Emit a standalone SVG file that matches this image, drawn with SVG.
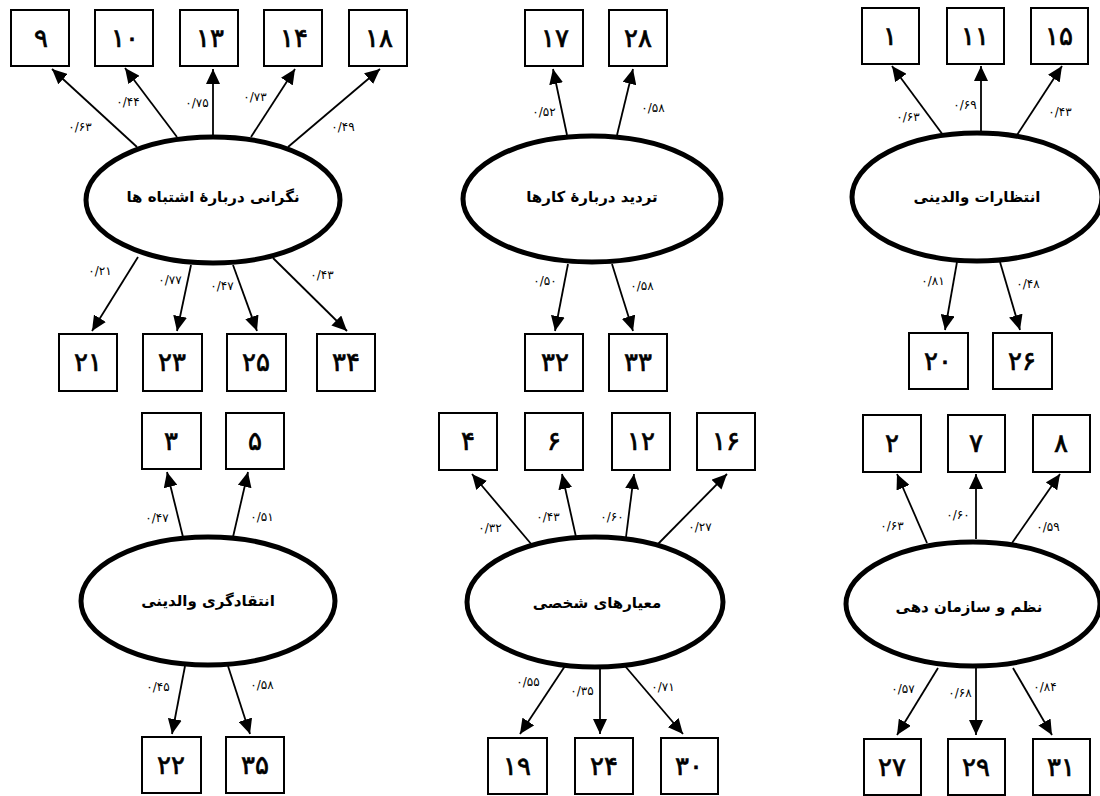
<svg xmlns="http://www.w3.org/2000/svg" width="1100" height="796" viewBox="0 0 1100 796">
<style>
.bx rect{fill:#fff;stroke:#000;stroke-width:2}
.bx text{font-family:"DejaVu Sans","Noto Sans",sans-serif;font-size:26px;text-anchor:middle;dominant-baseline:central;fill:#000;stroke:#000;stroke-width:0.7}
.lv ellipse{fill:#fff;stroke:#000;stroke-width:5}
.lv text{font-family:"DejaVu Sans","Noto Sans",sans-serif;font-size:15px;font-weight:bold;text-anchor:middle;dominant-baseline:central;fill:#000}
#connectors line{stroke:#000;stroke-width:1.8;marker-end:url(#ah)}
#connectors text{font-family:"DejaVu Sans","Noto Sans",sans-serif;font-size:12px;text-anchor:middle;dominant-baseline:central;fill:#000}
</style>
<defs>
<marker id="ah" markerUnits="userSpaceOnUse" markerWidth="16" markerHeight="14" refX="15" refY="7" orient="auto">
<path d="M0,0 L15,7 L0,14 z" fill="#000"/>
</marker>
</defs>
<rect width="1100" height="796" fill="#fff"/>

<g id="connectors">
<line x1="137" y1="147" x2="52" y2="69"/>
<line x1="177" y1="137" x2="125" y2="68"/>
<line x1="213" y1="135" x2="213" y2="69"/>
<line x1="251" y1="137" x2="295" y2="69"/>
<line x1="288" y1="147" x2="380" y2="69"/>
<text x="80" y="127">۰/۶۳</text>
<text x="128" y="102">۰/۴۴</text>
<text x="197" y="103">۰/۷۵</text>
<text x="255" y="97">۰/۷۳</text>
<text x="343" y="127">۰/۴۹</text>
<line x1="138" y1="257" x2="92" y2="331"/>
<line x1="191" y1="265" x2="177" y2="331"/>
<line x1="233" y1="265" x2="257" y2="331"/>
<line x1="273" y1="258" x2="347" y2="331"/>
<text x="100" y="271">۰/۲۱</text>
<text x="170" y="280">۰/۷۷</text>
<text x="222" y="286">۰/۴۷</text>
<text x="322" y="275">۰/۴۳</text>
<line x1="567" y1="135" x2="553" y2="69"/>
<line x1="617" y1="135" x2="633" y2="69"/>
<text x="544" y="112">۰/۵۲</text>
<text x="653" y="108">۰/۵۸</text>
<line x1="568" y1="264" x2="555" y2="331"/>
<line x1="612" y1="264" x2="633" y2="331"/>
<text x="545" y="281">۰/۵۰</text>
<text x="642" y="286">۰/۵۸</text>
<line x1="943" y1="135" x2="892" y2="66"/>
<line x1="981" y1="133" x2="981" y2="66"/>
<line x1="1017" y1="135" x2="1062" y2="66"/>
<text x="908" y="117">۰/۶۳</text>
<text x="965" y="105">۰/۶۹</text>
<text x="1060" y="112">۰/۴۳</text>
<line x1="957" y1="262" x2="945" y2="330"/>
<line x1="1000" y1="262" x2="1020" y2="330"/>
<text x="933" y="281">۰/۸۱</text>
<text x="1028" y="284">۰/۴۸</text>
<line x1="183" y1="537" x2="167" y2="472"/>
<line x1="233" y1="537" x2="248" y2="472"/>
<text x="157" y="518">۰/۴۷</text>
<text x="262" y="517">۰/۵۱</text>
<line x1="185" y1="666" x2="172" y2="734"/>
<line x1="228" y1="666" x2="250" y2="734"/>
<text x="158" y="687">۰/۴۵</text>
<text x="262" y="685">۰/۵۸</text>
<line x1="532" y1="545" x2="472" y2="474"/>
<line x1="576" y1="537" x2="562" y2="474"/>
<line x1="626" y1="537" x2="634" y2="474"/>
<line x1="658" y1="544" x2="727" y2="474"/>
<text x="490" y="528">۰/۳۲</text>
<text x="548" y="517">۰/۴۳</text>
<text x="612" y="517">۰/۶۰</text>
<text x="700" y="527">۰/۲۷</text>
<line x1="565" y1="666" x2="520" y2="734"/>
<line x1="600" y1="668" x2="600" y2="734"/>
<line x1="625" y1="666" x2="683" y2="734"/>
<text x="528" y="682">۰/۵۵</text>
<text x="582" y="691">۰/۳۵</text>
<text x="663" y="687">۰/۷۱</text>
<line x1="927" y1="543" x2="897" y2="474"/>
<line x1="976" y1="539" x2="976" y2="474"/>
<line x1="1012" y1="543" x2="1060" y2="474"/>
<text x="892" y="526">۰/۶۳</text>
<text x="958" y="515">۰/۶۰</text>
<text x="1048" y="527">۰/۵۹</text>
<line x1="938" y1="668" x2="897" y2="735"/>
<line x1="976" y1="668" x2="976" y2="735"/>
<line x1="1013" y1="668" x2="1052" y2="735"/>
<text x="903" y="689">۰/۵۷</text>
<text x="960" y="693">۰/۶۸</text>
<text x="1045" y="687">۰/۸۴</text>
</g>

<g id="f1" class="lv"><ellipse cx="213" cy="200" rx="127" ry="63"/><text x="213" y="197">نگرانی دربارۀ اشتباه ها</text></g>
<g id="f2" class="lv"><ellipse cx="592" cy="199" rx="129" ry="63"/><text x="592" y="197">تردید دربارۀ کارها</text></g>
<g id="f3" class="lv"><ellipse cx="977" cy="197" rx="125" ry="64"/><text x="977" y="197">انتظارات والدینی</text></g>
<g id="f4" class="lv"><ellipse cx="208" cy="601" rx="127" ry="64"/><text x="208" y="601">انتقادگری والدینی</text></g>
<g id="f5" class="lv"><ellipse cx="595" cy="602" rx="128" ry="65"/><text x="597" y="603">معیارهای شخصی</text></g>
<g id="f6" class="lv"><ellipse cx="973" cy="604" rx="127" ry="62"/><text x="969" y="607">نظم و سازمان دهی</text></g>

<g id="i9" class="bx"><rect x="11" y="10" width="58" height="56"/><text x="41" y="38">۹</text></g>
<g id="i10" class="bx"><rect x="95" y="10" width="58" height="56"/><text x="125" y="38">۱۰</text></g>
<g id="i13" class="bx"><rect x="180" y="10" width="58" height="56"/><text x="210" y="38">۱۳</text></g>
<g id="i14" class="bx"><rect x="264" y="10" width="58" height="56"/><text x="294" y="38">۱۴</text></g>
<g id="i18" class="bx"><rect x="349" y="10" width="58" height="56"/><text x="379" y="38">۱۸</text></g>
<g id="i21" class="bx"><rect x="59" y="334" width="58" height="57"/><text x="88" y="362">۲۱</text></g>
<g id="i23" class="bx"><rect x="143" y="334" width="59" height="57"/><text x="172" y="362">۲۳</text></g>
<g id="i25" class="bx"><rect x="227" y="334" width="59" height="57"/><text x="256" y="362">۲۵</text></g>
<g id="i34" class="bx"><rect x="317" y="334" width="58" height="57"/><text x="346" y="362">۳۴</text></g>

<g id="i17" class="bx"><rect x="525" y="10" width="58" height="56"/><text x="555" y="38">۱۷</text></g>
<g id="i28" class="bx"><rect x="609" y="10" width="58" height="56"/><text x="638" y="38">۲۸</text></g>
<g id="i32" class="bx"><rect x="525" y="334" width="58" height="57"/><text x="555" y="362">۳۲</text></g>
<g id="i33" class="bx"><rect x="609" y="334" width="58" height="57"/><text x="638" y="362">۳۳</text></g>

<g id="i1" class="bx"><rect x="862" y="8" width="57" height="56"/><text x="890" y="36">۱</text></g>
<g id="i11" class="bx"><rect x="947" y="8" width="57" height="56"/><text x="975" y="36">۱۱</text></g>
<g id="i15" class="bx"><rect x="1031" y="8" width="57" height="56"/><text x="1059" y="36">۱۵</text></g>
<g id="i20" class="bx"><rect x="909" y="333" width="59" height="56"/><text x="938" y="361">۲۰</text></g>
<g id="i26" class="bx"><rect x="993" y="333" width="59" height="56"/><text x="1022" y="361">۲۶</text></g>

<g id="i3" class="bx"><rect x="142" y="413" width="59" height="56"/><text x="171" y="441">۳</text></g>
<g id="i5" class="bx"><rect x="226" y="413" width="58" height="56"/><text x="255" y="441">۵</text></g>
<g id="i22" class="bx"><rect x="142" y="737" width="59" height="56"/><text x="171" y="765">۲۲</text></g>
<g id="i35" class="bx"><rect x="226" y="737" width="58" height="56"/><text x="255" y="765">۳۵</text></g>

<g id="i4" class="bx"><rect x="439" y="413" width="58" height="57"/><text x="468" y="441">۴</text></g>
<g id="i6" class="bx"><rect x="525" y="413" width="58" height="57"/><text x="554" y="441">۶</text></g>
<g id="i12" class="bx"><rect x="612" y="413" width="58" height="57"/><text x="641" y="441">۱۲</text></g>
<g id="i16" class="bx"><rect x="697" y="413" width="58" height="57"/><text x="726" y="441">۱۶</text></g>
<g id="i19" class="bx"><rect x="488" y="738" width="59" height="56"/><text x="517" y="766">۱۹</text></g>
<g id="i24" class="bx"><rect x="575" y="738" width="58" height="56"/><text x="604" y="766">۲۴</text></g>
<g id="i30" class="bx"><rect x="661" y="738" width="57" height="56"/><text x="689" y="766">۳۰</text></g>

<g id="i2" class="bx"><rect x="863" y="415" width="58" height="57"/><text x="892" y="443">۲</text></g>
<g id="i7" class="bx"><rect x="948" y="415" width="57" height="57"/><text x="976" y="443">۷</text></g>
<g id="i8" class="bx"><rect x="1033" y="415" width="57" height="57"/><text x="1061" y="443">۸</text></g>
<g id="i27" class="bx"><rect x="864" y="739" width="57" height="56"/><text x="892" y="767">۲۷</text></g>
<g id="i29" class="bx"><rect x="948" y="739" width="57" height="56"/><text x="976" y="767">۲۹</text></g>
<g id="i31" class="bx"><rect x="1033" y="739" width="57" height="56"/><text x="1061" y="767">۳۱</text></g>
</svg>
